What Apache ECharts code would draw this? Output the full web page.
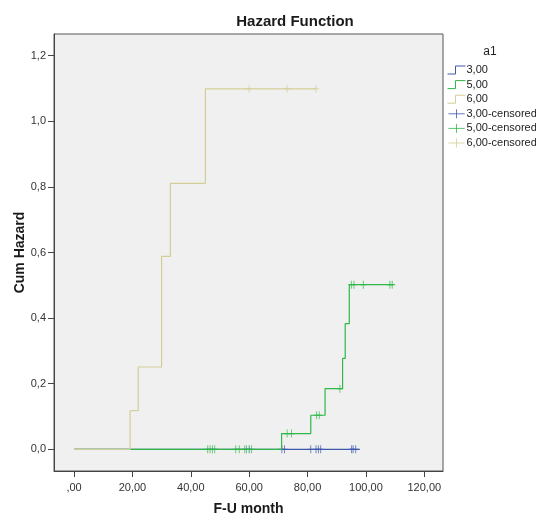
<!DOCTYPE html>
<html>
<head>
<meta charset="utf-8">
<script src="https://cdn.jsdelivr.net/npm/echarts@6/dist/echarts.min.js"></script>
<style>html,body{margin:0;padding:0;background:#fff}#c{width:536px;height:518px}</style>
</head>
<body>
<div id="c"></div>
<script>
// ---- data ----
const xTicks = [0, 20, 40, 60, 80, 100, 120];
const yTicks = [0, 0.2, 0.4, 0.6, 0.8, 1.0, 1.2];

// group 3,00
const g3Times = [0, 97.9];
const g3Hazard = [0, 0];
const g3CensTimes = [60.0, 71.2, 72.1, 81.1, 82.9, 83.7, 84.5, 95.1, 95.6, 96.5];
const g3CensHazard = [0, 0, 0, 0, 0, 0, 0, 0, 0, 0];

// group 5,00
const g5Times = [0, 71.1, 81.1, 86.0, 92.0, 92.9, 94.3, 109.4];
const g5Hazard = [0, 0.048, 0.104, 0.185, 0.277, 0.383, 0.502, 0.502];
const g5CensTimes = [45.8, 46.6, 47.4, 48.2, 55.4, 56.6, 58.5, 59.1, 60.8, 73.0, 74.5, 83.1, 84.0, 91.1, 95.0, 95.9, 99.1, 108.2, 109.0];
const g5CensHazard = [0, 0, 0, 0, 0, 0, 0, 0, 0, 0.048, 0.048, 0.104, 0.104, 0.185, 0.502, 0.502, 0.502, 0.502, 0.502];

// group 6,00
const g6Times = [0, 19.2, 22.0, 30.0, 33.0, 45.0, 82.9];
const g6Hazard = [0, 0.118, 0.251, 0.588, 0.811, 1.099, 1.099];
const g6CensTimes = [60.0, 73.0, 82.9];
const g6CensHazard = [1.099, 1.099, 1.099];

const names = ['3,00', '5,00', '6,00', '3,00-censored', '5,00-censored', '6,00-censored'];
const colors = ['#3E58AC', '#2EB848', '#D3CE97'];

// ---- build ----
const zip = (a, b) => a.map((v, i) => [v, b[i]]);
const FONT = '"Liberation Sans", Arial, sans-serif';
const stepIcon = 'path://M0,8L8,8L8,0L18,0';
const plusIcon = 'path://M0,5L18,5M9,0L9,10';
const censSym = 'path://M0,4L8,4M4,0L4,8';

function stepSeries(name, color, data) {
  return {
    name, type: 'line', step: 'end', data, symbol: 'none',
    lineStyle: { color, width: 1.2 }, itemStyle: { color },
    animation: false, silent: true
  };
}
function censSeries(name, color, data) {
  return {
    name, type: 'scatter', data, symbol: censSym, symbolSize: [6, 8],
    itemStyle: { color: 'rgba(0,0,0,0)', borderColor: color, borderWidth: 1 },
    animation: false, silent: true
  };
}

const fmtX = v => v === 0 ? ',00' : v.toFixed(2).replace('.', ',');
const fmtY = v => v.toFixed(1).replace('.', ',');
const legendItem = (i, icon, c) => ({ name: names[i], icon,
  itemStyle: { color: 'rgba(0,0,0,0)', borderColor: c, borderWidth: 1 } });

const option = {
  backgroundColor: '#ffffff',
  title: [
    { text: 'Hazard Function', left: 295, top: 14, textAlign: 'center', padding: 0,
      textStyle: { fontFamily: FONT, fontSize: 15, fontWeight: 'bold', color: '#1a1a1a' } },
    { text: 'a1', left: 490, top: 46, textAlign: 'center', padding: 0,
      textStyle: { fontFamily: FONT, fontSize: 12, fontWeight: 'normal', color: '#222' } }
  ],
  legend: {
    orient: 'vertical', left: 447, top: 64.5, padding: 0, itemWidth: 18, itemHeight: 9, itemGap: 3.6,
    textStyle: { fontFamily: FONT, fontSize: 11, color: '#222', padding: [0, 0, 0, -4] },
    data: [
      legendItem(0, stepIcon, colors[0]),
      legendItem(1, stepIcon, colors[1]),
      legendItem(2, stepIcon, colors[2]),
      legendItem(3, plusIcon, colors[0]),
      legendItem(4, plusIcon, colors[1]),
      legendItem(5, plusIcon, colors[2])
    ],
    selectedMode: false
  },
  grid: {
    left: 54, right: 93, top: 34, bottom: 47, show: true, outerBoundsMode: 'none', containLabel: false,
    backgroundColor: '#F0F0F0', borderColor: '#555', borderWidth: 1
  },
  xAxis: {
    type: 'value', min: -6.86, max: 126.4,
    name: 'F-U month', nameLocation: 'middle', nameGap: 31, nameMoveOverlap: false,
    nameTextStyle: { fontFamily: FONT, fontSize: 14, fontWeight: 'bold', color: '#1a1a1a' },
    axisLine: { show: true, onZero: false, lineStyle: { color: '#444', width: 1 } },
    axisTick: { show: true, length: 6, customValues: xTicks, lineStyle: { color: '#444' } },
    axisLabel: { customValues: xTicks, formatter: fmtX, margin: 11,
      fontFamily: FONT, fontSize: 11, color: '#333' },
    splitLine: { show: false }
  },
  yAxis: {
    type: 'value', min: -0.066, max: 1.266,
    name: 'Cum Hazard', nameLocation: 'middle', nameGap: 27, nameMoveOverlap: false,
    nameTextStyle: { fontFamily: FONT, fontSize: 14, fontWeight: 'bold', color: '#1a1a1a' },
    axisLine: { show: true, onZero: false, lineStyle: { color: '#444', width: 1 } },
    axisTick: { show: true, length: 6, customValues: yTicks, lineStyle: { color: '#444' } },
    axisLabel: { customValues: yTicks, formatter: fmtY, margin: 8,
      fontFamily: FONT, fontSize: 11, color: '#333' },
    splitLine: { show: false }
  },
  series: [
    stepSeries(names[0], colors[0], zip(g3Times, g3Hazard)),
    stepSeries(names[1], colors[1], zip(g5Times, g5Hazard)),
    stepSeries(names[2], colors[2], zip(g6Times, g6Hazard)),
    censSeries(names[3], colors[0], zip(g3CensTimes, g3CensHazard)),
    censSeries(names[4], colors[1], zip(g5CensTimes, g5CensHazard)),
    censSeries(names[5], colors[2], zip(g6CensTimes, g6CensHazard))
  ]
};

const chart = echarts.init(document.getElementById('c'), null, { renderer: 'canvas' });
chart.setOption(option);
</script>
</body>
</html>
